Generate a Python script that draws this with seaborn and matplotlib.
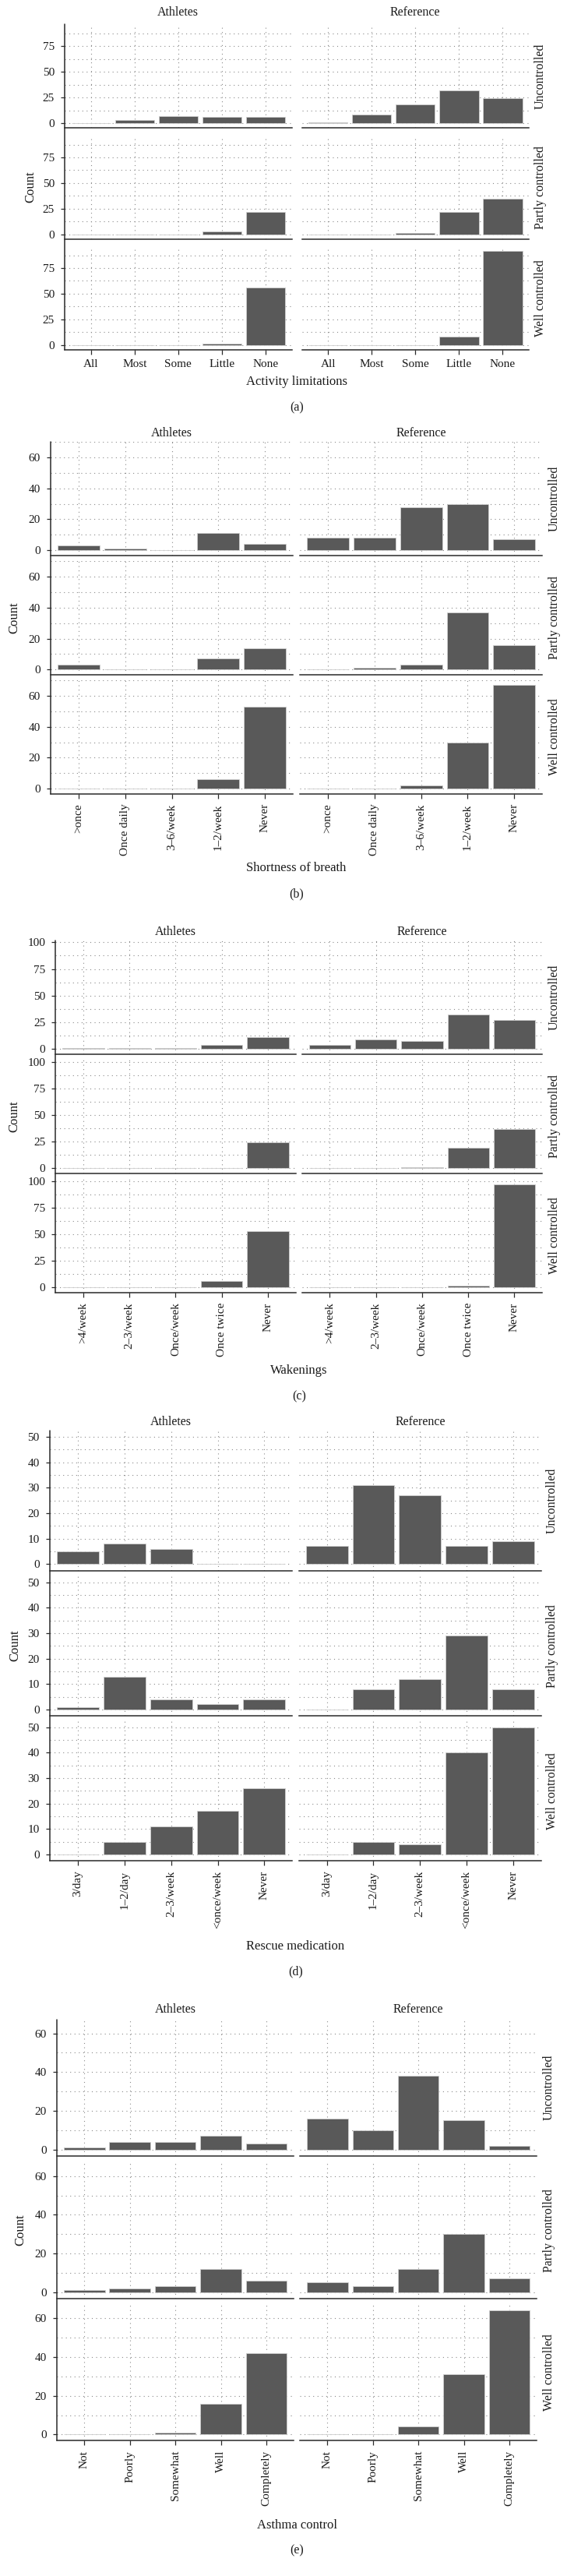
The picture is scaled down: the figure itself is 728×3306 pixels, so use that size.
import numpy as np
import pandas as pd
import matplotlib
matplotlib.use("Agg")
import matplotlib.pyplot as plt
import seaborn as sns
from matplotlib.lines import Line2D
from matplotlib.ticker import MultipleLocator

sns.set_theme(style="white")
plt.rcParams['font.family'] = ['Liberation Serif', 'DejaVu Serif']

# ---------------- data ----------------
groups = ["Athletes", "Reference"]
control_levels = ["Uncontrolled", "Partly controlled", "Well controlled"]

activity_levels = ["All", "Most", "Some", "Little", "None"]
activity_athletes_unc = [0, 3, 7, 6, 6]
activity_reference_unc = [1, 8, 18, 32, 24]
activity_athletes_partly = [0, 0, 0, 3, 22]
activity_reference_partly = [0, 0, 1, 22, 35]
activity_athletes_well = [0, 0, 0, 1, 56]
activity_reference_well = [0, 0, 0, 8, 92]

breath_levels = [">once", "Once daily", "3–6/week", "1–2/week", "Never"]
breath_athletes_unc = [3, 1, 0, 11, 4]
breath_reference_unc = [8, 8, 28, 30, 7]
breath_athletes_partly = [3, 0, 0, 7, 14]
breath_reference_partly = [0, 1, 3, 37, 16]
breath_athletes_well = [0, 0, 0, 6, 53]
breath_reference_well = [0, 0, 2, 30, 67]

wake_levels = [">4/week", "2–3/week", "Once/week", "Once twice", "Never"]
wake_athletes_unc = [1, 1, 1, 4, 11]
wake_reference_unc = [4, 9, 7, 32, 27]
wake_athletes_partly = [0, 0, 0, 0, 24]
wake_reference_partly = [0, 0, 1, 19, 37]
wake_athletes_well = [0, 0, 0, 6, 53]
wake_reference_well = [0, 0, 0, 2, 97]

rescue_levels = ["3/day", "1–2/day", "2–3/week", "<once/week", "Never"]
rescue_athletes_unc = [5, 8, 6, 0, 0]
rescue_reference_unc = [7, 31, 27, 7, 9]
rescue_athletes_partly = [1, 13, 4, 2, 4]
rescue_reference_partly = [0, 8, 12, 29, 8]
rescue_athletes_well = [0, 5, 11, 17, 26]
rescue_reference_well = [0, 5, 4, 40, 50]

control_q_levels = ["Not", "Poorly", "Somewhat", "Well", "Completely"]
control_athletes_unc = [1, 4, 4, 7, 3]
control_reference_unc = [16, 10, 38, 15, 2]
control_athletes_partly = [1, 2, 3, 12, 6]
control_reference_partly = [5, 3, 12, 30, 7]
control_athletes_well = [0, 0, 1, 16, 42]
control_reference_well = [0, 0, 4, 31, 64]

x_titles = ["Activity limitations", "Shortness of breath", "Wakenings",
            "Rescue medication", "Asthma control"]
tags = ["(a)", "(b)", "(c)", "(d)", "(e)"]
y_major_steps = [25, 20, 25, 10, 20]


def build(levels, au, ru, ap, rp, aw, rw):
    rows = []
    table = {("Athletes", "Uncontrolled"): au, ("Reference", "Uncontrolled"): ru,
             ("Athletes", "Partly controlled"): ap, ("Reference", "Partly controlled"): rp,
             ("Athletes", "Well controlled"): aw, ("Reference", "Well controlled"): rw}
    for (g, c), vals in table.items():
        for lv, v in zip(levels, vals):
            rows.append({"group": g, "control": c, "level": lv, "count": v})
    return pd.DataFrame(rows)


datasets = [
    (activity_levels, build(activity_levels, activity_athletes_unc, activity_reference_unc,
                            activity_athletes_partly, activity_reference_partly,
                            activity_athletes_well, activity_reference_well)),
    (breath_levels, build(breath_levels, breath_athletes_unc, breath_reference_unc,
                          breath_athletes_partly, breath_reference_partly,
                          breath_athletes_well, breath_reference_well)),
    (wake_levels, build(wake_levels, wake_athletes_unc, wake_reference_unc,
                        wake_athletes_partly, wake_reference_partly,
                        wake_athletes_well, wake_reference_well)),
    (rescue_levels, build(rescue_levels, rescue_athletes_unc, rescue_reference_unc,
                          rescue_athletes_partly, rescue_reference_partly,
                          rescue_athletes_well, rescue_reference_well)),
    (control_q_levels, build(control_q_levels, control_athletes_unc, control_reference_unc,
                             control_athletes_partly, control_reference_partly,
                             control_athletes_well, control_reference_well)),
]

# ---------------- layout (pixels) ----------------
W, H = 728, 3306
layouts = [
    dict(rows=[(30.9, 164), (173.6, 306.8), (315.6, 448.7)], x0=83.1, x1=679, gap=13,
         title_y=15.7, strip_x=694, xlabel_y=490, tag_y=523, count_x=39.7, rot=0),
    dict(rows=[(566.6, 712.7), (719.8, 865.9), (872.6, 1018.7)], x0=65.3, x1=696, gap=9.4,
         title_y=555.7, strip_x=711.6, xlabel_y=1114, tag_y=1147, count_x=18.7, rot=90),
    dict(rows=[(1206.8, 1352.7), (1360, 1505.9), (1513.2, 1659)], x0=71.4, x1=696, gap=8.3,
         title_y=1195.7, strip_x=711.6, xlabel_y=1758.6, tag_y=1792, count_x=18.7, rot=90),
    dict(rows=[(1835.8, 2015.5), (2022.5, 2202.2), (2208.5, 2388.2)], x0=64, x1=695, gap=8.4,
         title_y=1824.7, strip_x=709, xlabel_y=2497.5, tag_y=2530.4, count_x=19.6, rot=90),
    dict(rows=[(2591.7, 2766.6), (2774.8, 2949.6), (2957.5, 3132.3)], x0=73.3, x1=689, gap=8.4,
         title_y=2578.9, strip_x=704.6, xlabel_y=3240.7, tag_y=3273.3, count_x=26.6, rot=90),
]

TEXT = "#1a1a1a"
LINE = "#2a2a2a"
BAR = "#595959"
GRID = "#8a8a8a"
TICK_FS = 11
STRIP_FS = 11.5
LABEL_FS = 12

fig = plt.figure(figsize=(W / 100, H / 100), dpi=100)
fig.patch.set_facecolor("white")


def fx(x):
    return x / W


def fy(y):
    return 1 - y / H


for (levels, df), lay, xt, tag, step in zip(datasets, layouts, x_titles, tags, y_major_steps):
    ymax = df["count"].max()
    ylo, yhi = -0.05 * ymax, 1.05 * ymax
    colw = (lay["x1"] - lay["x0"] - lay["gap"]) / 2
    col_lefts = [lay["x0"], lay["x0"] + colw + lay["gap"]]
    for ri, ctrl in enumerate(control_levels):
        top, bot = lay["rows"][ri]
        for ci, grp in enumerate(groups):
            ax = fig.add_axes([fx(col_lefts[ci]), fy(bot), colw / W, (bot - top) / H])
            sub = df[(df["group"] == grp) & (df["control"] == ctrl)]
            sns.barplot(data=sub, x="level", y="count", order=levels, color=BAR,
                        saturation=1, width=0.9, edgecolor="#cfcfcf", linewidth=0.6,
                        errorbar=None, ax=ax, zorder=3)
            ax.set_xlim(-0.6, len(levels) - 0.4)
            ax.set_ylim(ylo, yhi)
            ax.yaxis.set_major_locator(MultipleLocator(step))
            ax.yaxis.set_minor_locator(MultipleLocator(step / 2))
            ax.set_axisbelow(True)
            ax.grid(True, which="both", axis="y", color=GRID, linestyle=(0, (1, 4)),
                    linewidth=0.8)
            ax.grid(True, which="major", axis="x", color=GRID, linestyle=(0, (1, 4)),
                    linewidth=0.8)
            ax.set_facecolor("none")
            ax.set_xlabel("")
            ax.set_ylabel("")
            for s in ["top", "right", "left"]:
                ax.spines[s].set_visible(False)
            ax.spines["bottom"].set_color(LINE)
            ax.spines["bottom"].set_linewidth(1.1)
            ax.tick_params(axis="y", which="minor", length=0)
            if ci == 0:
                ax.tick_params(axis="y", which="major", direction="out", length=3.5,
                               width=0.9, color=LINE, pad=6, labelsize=TICK_FS,
                               labelcolor=TEXT, left=True)
            else:
                ax.tick_params(axis="y", which="both", left=False, labelleft=False)
            if ri == 2:
                ax.tick_params(axis="x", direction="out", length=4, width=0.9, color=LINE,
                               pad=5, labelsize=TICK_FS, labelcolor=TEXT, bottom=True,
                               labelrotation=lay["rot"])
            else:
                ax.tick_params(axis="x", bottom=False, labelbottom=False)
            if ri == 0:
                fig.text(fx(col_lefts[ci] + colw / 2), fy(lay["title_y"]), grp,
                         ha="center", va="center", fontsize=STRIP_FS, color=TEXT)
        fig.text(fx(lay["strip_x"]), fy((top + bot) / 2), ctrl, rotation=90,
                 ha="center", va="center", fontsize=STRIP_FS, color=TEXT)
    # continuous left axis line
    fig.add_artist(Line2D([fx(lay["x0"]), fx(lay["x0"])],
                          [fy(lay["rows"][0][0]), fy(lay["rows"][2][1])],
                          transform=fig.transFigure, color=LINE, linewidth=1.1))
    mid_y = (lay["rows"][0][0] + lay["rows"][2][1]) / 2
    fig.text(fx(lay["count_x"]), fy(mid_y), "Count", rotation=90, ha="center",
             va="center", fontsize=LABEL_FS, color=TEXT)
    fig.text(fx((lay["x0"] + lay["x1"]) / 2), fy(lay["xlabel_y"]), xt, ha="center",
             va="center", fontsize=LABEL_FS, color=TEXT)
    fig.text(fx((lay["x0"] + lay["x1"]) / 2), fy(lay["tag_y"]), tag, ha="center",
             va="center", fontsize=STRIP_FS, color=TEXT)

fig.savefig("out.png", dpi=100, facecolor="white")
